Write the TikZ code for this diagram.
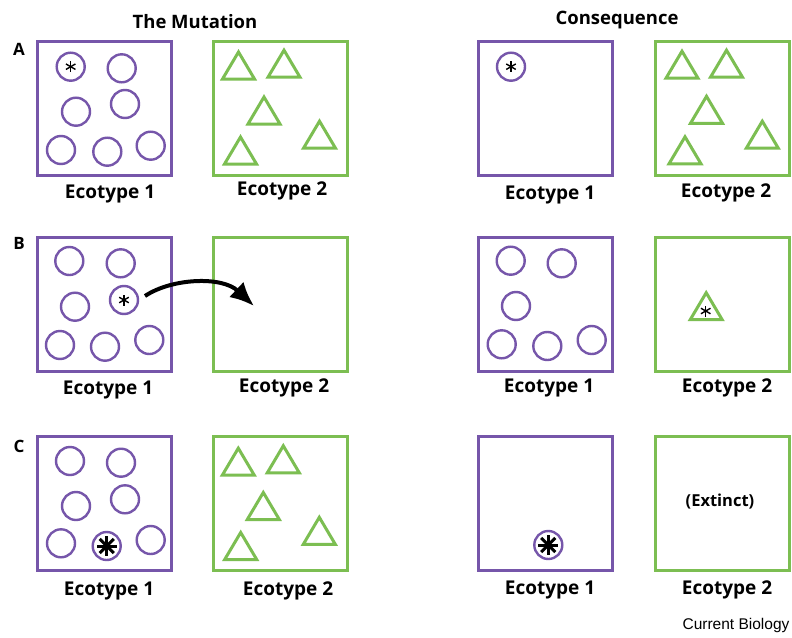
\documentclass[tikz,border=0pt]{standalone}
\usepackage{fontspec}
\setmainfont{Open Sans}
\newfontfamily\cbfont{Liberation Sans}
\usetikzlibrary{arrows.meta}
\definecolor{ecoone}{RGB}{118,86,170}
\definecolor{ecotwo}{RGB}{124,190,82}
\begin{document}
\begin{tikzpicture}[x=1pt,y=-1pt,
  boxone/.style={draw=ecoone, line width=3pt, minimum size=134pt, inner sep=0pt},
  boxtwo/.style={draw=ecotwo, line width=3pt, minimum size=134pt, inner sep=0pt},
  ind/.style={circle, draw=ecoone, line width=2.4pt, minimum size=28pt, inner sep=0pt},
  lbl/.style={font=\bfseries\fontsize{19}{21}\selectfont, inner sep=0pt},
  hdr/.style={font=\bfseries\fontsize{18.5}{21}\selectfont, inner sep=0pt},
  rowlbl/.style={font=\bfseries\fontsize{17}{19}\selectfont, inner sep=0pt},
  tri/.pic={\draw[ecotwo, line width=3pt] (-16,13.5) -- (16,13.5) -- (0,-13.5) -- cycle;},
  asts/.pic={\foreach \a in {90,150,...,450} \draw[line width=1.4pt] (0,0) -- (\a:5.5);},
  astb/.pic={\foreach \a in {0,45,...,315} \draw[line width=3pt] (0,0) -- (\a:10);}
]
\useasboundingbox (0,0) rectangle (792,637);
\fill[white] (0,0) rectangle (792,637);

% headers
\node[hdr] (hmut) at (195,22) {The Mutation};
\node[hdr] (hcon) at (617,20) {Consequence};
\node[rowlbl] (la) at (19,49) {A};
\node[rowlbl] (lb) at (19,243) {B};
\node[rowlbl] (lc) at (19,446) {C};

% boxes
\node[boxone] (a1) at (104.5,108.6) {};
\node[boxtwo] (a2) at (280.5,108.6) {};
\node[boxone] (a3) at (545.7,108.6) {};
\node[boxtwo] (a4) at (722.3,108.6) {};
\node[boxone] (b1) at (104.5,304) {};
\node[boxtwo] (b2) at (280.5,304) {};
\node[boxone] (b3) at (545.7,304) {};
\node[boxtwo] (b4) at (722.3,304) {};
\node[boxone] (c1) at (104.5,503.3) {};
\node[boxtwo] (c2) at (280.5,503.3) {};
\node[boxone] (c3) at (545.7,503.3) {};
\node[boxtwo] (c4) at (722.3,503.3) {};

% labels
\node[lbl] (ta1) at (110,194) {Ecotype 1};
\node[lbl] (ta2) at (282,191) {Ecotype 2};
\node[lbl] (ta3) at (550,195) {Ecotype 1};
\node[lbl] (ta4) at (726,193) {Ecotype 2};
\node[lbl] (tb1) at (108,390) {Ecotype 1};
\node[lbl] (tb2) at (284,388) {Ecotype 2};
\node[lbl] (tb3) at (549,388) {Ecotype 1};
\node[lbl] (tb4) at (727,388) {Ecotype 2};
\node[lbl] (tc1) at (109,591) {Ecotype 1};
\node[lbl] (tc2) at (288,591) {Ecotype 2};
\node[lbl] (tc3) at (550,590) {Ecotype 1};
\node[lbl] (tc4) at (727,590) {Ecotype 2};

% row A, mutation
\node[ind] (a1s) at (70.7,66.7) {};
\pic at (a1s) {asts};
\node[ind] (a1i2) at (121.7,68.3) {};
\node[ind] (a1i3) at (76,111.7) {};
\node[ind] (a1i4) at (125,104) {};
\node[ind] (a1i5) at (61,150) {};
\node[ind] (a1i6) at (107.3,151.7) {};
\node[ind] (a1i7) at (150.7,145.7) {};
\pic at (238.5,65.5) {tri};
\pic at (284,63.7) {tri};
\pic at (264,110.5) {tri};
\pic at (319.5,134.7) {tri};
\pic at (240.5,150.5) {tri};

% row A, consequence
\node[ind] (a3s) at (511,66.7) {};
\pic at (a3s) {asts};
\pic at (682,64.7) {tri};
\pic at (726.5,63.7) {tri};
\pic at (706.5,109.8) {tri};
\pic at (762.3,134.7) {tri};
\pic at (685,150.3) {tri};

% row B, mutation
\node[ind] (b1i1) at (69.3,261) {};
\node[ind] (b1i2) at (120.7,263.3) {};
\node[ind] (b1i3) at (75,306.7) {};
\node[ind] (b1s) at (124,300) {};
\pic at (b1s) {asts};
\node[ind] (b1i5) at (60,345) {};
\node[ind] (b1i6) at (105,346.7) {};
\node[ind] (b1i7) at (149.3,340) {};
\coordinate (arrs) at (145,296);
\coordinate (arre) at (254,306);
\draw[line width=4pt, -{Latex[length=24pt,width=21pt]}] (arrs) .. controls (172,278) and (222,276) .. (arre);

% row B, consequence
\node[ind] (b3i1) at (510.7,260.7) {};
\node[ind] (b3i2) at (561.7,263.3) {};
\node[ind] (b3i3) at (516,306) {};
\node[ind] (b3i4) at (501.7,344.3) {};
\node[ind] (b3i5) at (547.3,346) {};
\node[ind] (b3i6) at (591.7,340) {};
\pic at (706.2,306.2) {tri};
\pic at (705.7,311) {asts};

% row C, mutation
\node[ind] (c1i1) at (70,461) {};
\node[ind] (c1i2) at (121,462.7) {};
\node[ind] (c1i3) at (76,506) {};
\node[ind] (c1i4) at (125,499.3) {};
\node[ind] (c1i5) at (61,543.3) {};
\node[ind] (c1s) at (106.7,546) {};
\pic at (c1s) {astb};
\node[ind] (c1i7) at (150.7,540) {};
\pic at (238.3,461.7) {tri};
\pic at (283.3,459.3) {tri};
\pic at (263.3,506) {tri};
\pic at (319.3,530.8) {tri};
\pic at (240.7,546) {tri};

% row C, consequence
\node[ind] (c3s) at (548.3,545) {};
\pic at (c3s) {astb};
\node[font=\bfseries\fontsize{16.5}{18}\selectfont, inner sep=0pt] (ext) at (720,501.7) {(Extinct)};

\node[font=\cbfont\fontsize{15.5}{17}\selectfont, inner sep=0pt] (cb) at (736,625) {Current Biology};
\end{tikzpicture}
\end{document}
